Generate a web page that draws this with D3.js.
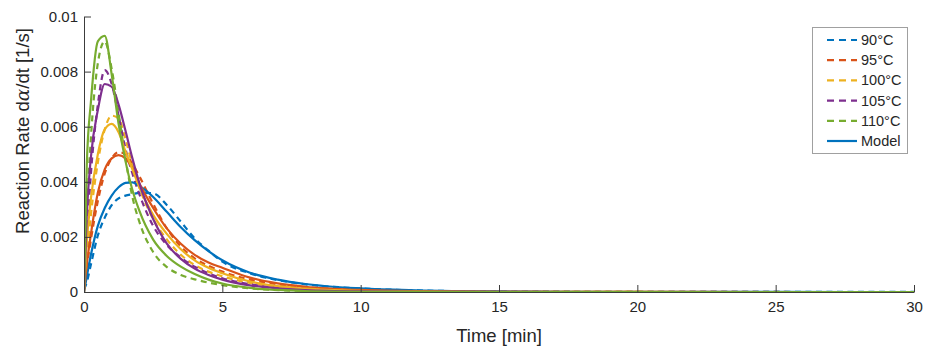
<!DOCTYPE html>
<html>
<head>
<meta charset="utf-8">
<script src="https://cdn.jsdelivr.net/npm/d3@7"></script>
<style>
  html, body { margin: 0; padding: 0; background: #fff; }
  svg { display: block; font-family: "Liberation Sans", Arial, Helvetica, sans-serif; }
</style>
</head>
<body>
<svg id="chart" width="927" height="349"></svg>
<script>
// Sampling times [min]
const times = [0, 0.1, 0.25, 0.5, 0.75, 1, 1.25, 1.5, 1.75, 2, 2.5, 3, 3.5, 4, 4.5, 5, 6, 7, 8, 10, 12, 15, 20, 25, 30];

// Reaction rates in units of 1e-3 1/s
// Measured (dashed)
const exp90  = [0.1, 0.35, 1.0, 2.05, 2.7, 3.15, 3.4, 3.5, 3.55, 3.6, 3.58, 3.15, 2.55, 1.95, 1.5, 1.1, 0.68, 0.43, 0.28, 0.13, 0.06, 0.02, 0.006, 0.002, 0.001];
const exp95  = [0.1, 0.9, 1.9, 3.3, 4.3, 4.85, 5.08, 5.0, 4.65, 4.2, 3.2, 2.3, 1.65, 1.22, 0.95, 0.74, 0.45, 0.28, 0.17, 0.07, 0.03, 0.01, 0.003, 0.001, 0];
const exp100 = [0.1, 1.2, 2.8, 4.7, 5.9, 6.4, 6.3, 5.55, 4.6, 3.8, 2.65, 1.9, 1.35, 0.98, 0.74, 0.57, 0.33, 0.19, 0.11, 0.04, 0.015, 0.005, 0.001, 0, 0];
const exp105 = [0.1, 2.0, 4.3, 6.8, 8.05, 7.55, 6.4, 5.2, 4.3, 3.55, 2.4, 1.7, 1.25, 0.92, 0.68, 0.5, 0.28, 0.15, 0.08, 0.025, 0.008, 0.002, 0, 0, 0];
const exp110 = [0.1, 2.8, 5.6, 8.3, 9.1, 8.1, 6.5, 4.85, 3.45, 2.55, 1.45, 0.9, 0.62, 0.46, 0.34, 0.25, 0.13, 0.07, 0.035, 0.01, 0.003, 0.001, 0, 0, 0];
// Model (solid)
const model90  = [0, 0.55, 1.35, 2.4, 3.05, 3.5, 3.8, 3.96, 3.98, 3.85, 3.45, 2.9, 2.35, 1.88, 1.48, 1.15, 0.7, 0.45, 0.29, 0.13, 0.06, 0.02, 0.005, 0.0015, 0.0005];
const model95  = [0, 1.0, 2.1, 3.6, 4.45, 4.85, 4.97, 4.85, 4.5, 3.95, 3.05, 2.3, 1.75, 1.35, 1.07, 0.88, 0.52, 0.31, 0.19, 0.075, 0.03, 0.01, 0.002, 0.0005, 0];
const model100 = [0, 1.8, 3.4, 5.0, 5.9, 6.1, 5.8, 5.1, 4.45, 3.8, 2.8, 2.1, 1.55, 1.15, 0.88, 0.68, 0.38, 0.21, 0.12, 0.04, 0.015, 0.004, 0.001, 0, 0];
const model105 = [0, 2.8, 4.9, 6.6, 7.55, 7.45, 6.8, 5.85, 4.85, 3.95, 2.65, 1.75, 1.2, 0.85, 0.62, 0.45, 0.24, 0.13, 0.07, 0.02, 0.006, 0.0015, 0.0003, 0, 0];
const model110 = [0, 4.6, 6.9, 9.1, 9.3, 7.9, 6.1, 4.75, 3.7, 2.95, 1.9, 1.3, 0.92, 0.65, 0.45, 0.31, 0.15, 0.075, 0.035, 0.008, 0.002, 0, 0, 0, 0];

const seriesNames = ["90°C", "95°C", "100°C", "105°C", "110°C"];
const seriesColors = ["#0072BD", "#D95319", "#EDB120", "#7E2F8E", "#77AC30"];
const expSeries = [exp90, exp95, exp100, exp105, exp110];
const modelSeries = [model90, model95, model100, model105, model110];

const xTicks = [0, 5, 10, 15, 20, 25, 30];
const yTicks = [0, 2, 4, 6, 8, 10];
const yTickLabels = ["0", "0.002", "0.004", "0.006", "0.008", "0.01"];

const svg = d3.select("#chart");
const plot = { left: 84, right: 914, top: 16.5, bottom: 292 };

const x = d3.scaleLinear().domain([0, 30]).range([plot.left, plot.right]);
const y = d3.scaleLinear().domain([0, 10]).range([plot.bottom, plot.top]);

const axisColor = "#3c3c3c";
const textColor = "#262626";

// Curves, clipped to the axes box
svg.append("defs").append("clipPath").attr("id", "plotClip")
  .append("rect")
  .attr("x", plot.left).attr("y", plot.top - 10)
  .attr("width", plot.right - plot.left + 4).attr("height", plot.bottom - plot.top + 12);

const line = d3.line()
  .x((d, i) => x(times[i]))
  .y(d => y(d))
  .curve(d3.curveMonotoneX);

const curves = svg.append("g").attr("clip-path", "url(#plotClip)");

expSeries.forEach((vals, k) => {
  curves.append("path")
    .attr("d", line(vals))
    .attr("fill", "none")
    .attr("stroke", seriesColors[k])
    .attr("stroke-width", 2.2)
    .attr("stroke-dasharray", "6,4.5");
});
modelSeries.forEach((vals, k) => {
  curves.append("path")
    .attr("d", line(vals))
    .attr("fill", "none")
    .attr("stroke", seriesColors[k])
    .attr("stroke-width", 2.2);
});

// Axes with inward ticks
const xAxis = svg.append("g")
  .attr("transform", `translate(0,${plot.bottom})`)
  .call(d3.axisBottom(x).tickValues(xTicks).tickSize(-7).tickSizeOuter(0).tickPadding(9));
const yAxis = svg.append("g")
  .attr("transform", `translate(${plot.left},0)`)
  .call(d3.axisLeft(y).tickValues(yTicks).tickFormat((d, i) => yTickLabels[i])
        .tickSize(-7).tickSizeOuter(0).tickPadding(6));

[xAxis, yAxis].forEach(g => {
  g.select(".domain").attr("stroke", axisColor).attr("stroke-width", 1);
  g.selectAll(".tick line").attr("stroke", axisColor).attr("stroke-width", 1);
  g.selectAll(".tick text").attr("fill", textColor).style("font-size", "15px")
    .style("font-family", "'Liberation Sans', Arial, sans-serif");
});

// Axis titles
svg.append("text")
  .attr("x", (plot.left + plot.right) / 2)
  .attr("y", 342)
  .attr("text-anchor", "middle")
  .attr("fill", textColor)
  .style("font-size", "18.5px")
  .text("Time [min]");

const yTitle = svg.append("text")
  .attr("transform", "translate(29,131) rotate(-90)")
  .attr("text-anchor", "middle")
  .attr("fill", textColor)
  .style("font-size", "18.5px");
yTitle.append("tspan").text("Reaction Rate d");
yTitle.append("tspan").style("font-style", "italic").style("font-family", "'DejaVu Serif', 'Liberation Serif', serif").text("α");
yTitle.append("tspan").text("/dt [1/s]");

// Legend
const legend = { x: 812, y: 27, w: 95, h: 126, rowH: 20.2, firstRow: 40 };
const lg = svg.append("g");
lg.append("rect")
  .attr("x", legend.x + 0.5).attr("y", legend.y + 0.5)
  .attr("width", legend.w).attr("height", legend.h)
  .attr("fill", "#fff").attr("stroke", "#a0a0a0").attr("stroke-width", 1);

const legendItems = seriesNames.map((name, k) => ({ name, color: seriesColors[k], dashed: true }))
  .concat([{ name: "Model", color: seriesColors[0], dashed: false }]);

legendItems.forEach((item, i) => {
  const cy = legend.firstRow + i * legend.rowH;
  lg.append("line")
    .attr("x1", legend.x + 15).attr("x2", legend.x + 45)
    .attr("y1", cy).attr("y2", cy)
    .attr("stroke", item.color).attr("stroke-width", 2.2)
    .attr("stroke-dasharray", item.dashed ? "7,5" : null);
  lg.append("text")
    .attr("x", legend.x + 49).attr("y", cy)
    .attr("dy", "0.35em")
    .attr("fill", textColor)
    .style("font-size", "14.5px")
    .text(item.name);
});
</script>
</body>
</html>
